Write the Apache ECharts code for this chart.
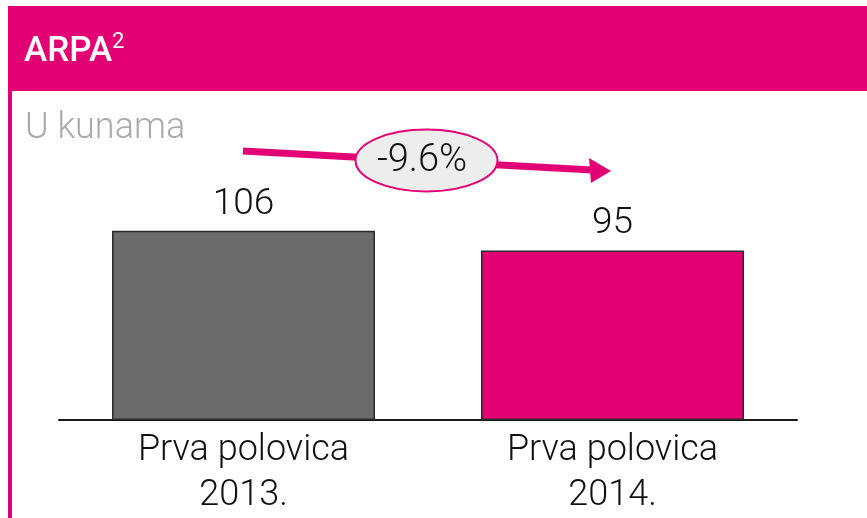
<!DOCTYPE html>
<html>
<head>
<meta charset="utf-8">
<script src="https://cdn.jsdelivr.net/npm/echarts@6/dist/echarts.min.js"></script>
<style>
  html, body { margin: 0; padding: 0; background: #fff; }
  #main { width: 867px; height: 518px; }
</style>
</head>
<body>
<div id="main"></div>
<script>
// chart data
const categories = ['Prva polovica\n2013.', 'Prva polovica\n2014.'];
const arpaValues = [106, 95];
const barColors = ['#6b6b6b', '#e20074'];
const changeLabel = '-9.6%';

const MAGENTA = '#e20074';
const FONT = "Roboto, 'Liberation Sans', sans-serif";

let chart = echarts.init(document.getElementById('main'));

let option = {
  animation: false,
  backgroundColor: '#fff',
  grid: { left: 59, right: 70, top: 188, bottom: 97 },
  xAxis: {
    type: 'category',
    data: categories,
    axisLine: { lineStyle: { color: '#1a1a1a', width: 2 } },
    axisTick: { show: false },
    axisLabel: {
      fontFamily: FONT, fontSize: 36, fontWeight: 300, color: '#111',
      lineHeight: 45, margin: 8
    }
  },
  yAxis: {
    type: 'value', min: 0, max: 130,
    show: false, splitLine: { show: false }
  },
  series: [{
    type: 'bar',
    barWidth: 263,
    data: arpaValues.map((v, i) => ({
      value: v,
      itemStyle: { color: barColors[i] }
    })),
    itemStyle: { borderColor: '#2b2b2b', borderWidth: 1.5 },
    label: {
      show: true, position: 'top', distance: 8,
      fontFamily: FONT, fontSize: 37, fontWeight: 300, color: '#111'
    }
  }],
  graphic: [
    // header band
    { type: 'rect', shape: { x: 8, y: 6, width: 859, height: 85 }, style: { fill: MAGENTA }, silent: true },
    // left border
    { type: 'rect', shape: { x: 8, y: 91, width: 4, height: 427 }, style: { fill: MAGENTA }, silent: true },
    { type: 'text', x: 24, y: 52, style: { text: 'ARPA', fill: '#fff', font: '500 35px ' + FONT, textVerticalAlign: 'middle' } },
    { type: 'text', x: 112, y: 42, style: { text: '2', fill: '#fff', font: '400 22px ' + FONT, textVerticalAlign: 'middle' } },
    { type: 'text', x: 25, y: 129, style: { text: 'U kunama', fill: '#aaaaaa', font: '300 36px ' + FONT, textVerticalAlign: 'middle' } },
    // change arrow
    { type: 'line', shape: { x1: 243, y1: 151, x2: 592, y2: 170 }, style: { stroke: MAGENTA, lineWidth: 7 }, z: 10 },
    { type: 'polygon', shape: { points: [[611, 171], [589, 158], [591, 183]] }, style: { fill: MAGENTA }, z: 10 },
    { type: 'ellipse', shape: { cx: 426.5, cy: 160.5, rx: 71, ry: 31 }, style: { fill: '#ededed', stroke: MAGENTA, lineWidth: 2 }, z: 11 },
    { type: 'text', x: 422, y: 161, z: 12, style: { text: changeLabel, fill: '#111', font: '300 38px ' + FONT, textAlign: 'center', textVerticalAlign: 'middle' } }
  ]
};

chart.setOption(option);
</script>
</body>
</html>
